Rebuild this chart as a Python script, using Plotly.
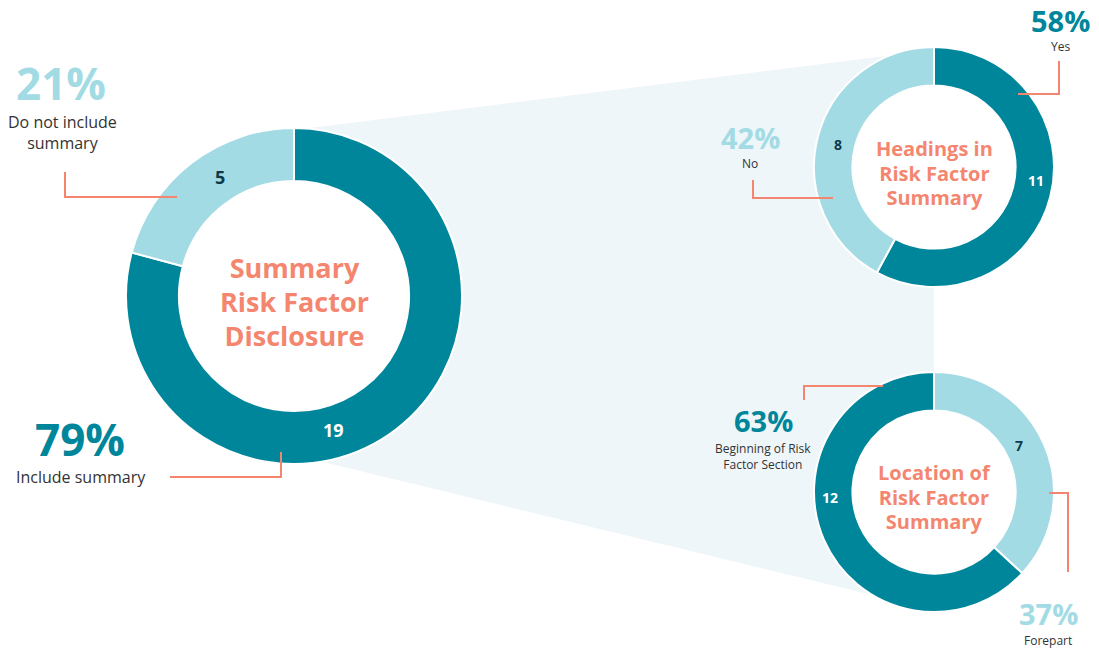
import plotly.graph_objects as go

W, H = 1099, 648

# Survey counts for each donut
summary_labels = ["Include summary", "Do not include summary"]
summary_counts = [19, 5]

headings_labels = ["Yes", "No"]
headings_counts = [11, 8]

location_labels = ["Forepart", "Beginning of Risk Factor Section"]
location_counts = [7, 12]

DARK = "#00869b"
LIGHT = "#a3dbe5"
SALMON = "#f4866f"
NAVY = "#0e3a48"
FUNNEL = "#eef6f9"
INK = "#333333"
FONT = "Open Sans"
ASCENT = 1.069  # Open Sans ascender, in em


def px(x):
    return x / W


def py(y):
    return 1 - y / H


def pct(counts, i):
    return f"{round(100 * counts[i] / sum(counts))}%"


def domain(cx, cy, r):
    return dict(x=[px(cx - r), px(cx + r)], y=[py(cy + r), py(cy - r)])


fig = go.Figure()

donuts = [
    (summary_labels, summary_counts, [DARK, LIGHT], (294, 296, 168), 0.685),
    (headings_labels, headings_counts, [DARK, LIGHT], (934, 167, 120), 0.68),
    (location_labels, location_counts, [LIGHT, DARK], (934, 492, 120), 0.68),
]

for labels, counts, colors, (cx, cy, r), hole in donuts:
    fig.add_trace(go.Pie(
        labels=labels, values=counts, hole=hole, sort=False,
        direction="clockwise", rotation=0, textinfo="none",
        marker=dict(colors=colors, line=dict(color="white", width=2)),
        domain=domain(cx, cy, r), showlegend=False,
        hoverinfo="label+value",
    ))

shapes = []
# light connector band from the main donut to the two detail donuts
band = [(294, 130), (934, 50), (934, 610), (294, 455)]
path = "M " + " L ".join(f"{px(x)},{py(y)}" for x, y in band) + " Z"
shapes.append(dict(type="path", xref="paper", yref="paper", path=path,
                   fillcolor=FUNNEL, line=dict(width=0), layer="below"))
# white centres inside the donut holes
for _, _, _, (cx, cy, r), hole in donuts:
    ri = r * hole + 1
    shapes.append(dict(type="circle", xref="paper", yref="paper",
                       x0=px(cx - ri), x1=px(cx + ri), y0=py(cy + ri), y1=py(cy - ri),
                       fillcolor="white", line=dict(width=0), layer="below"))

# elbow leader lines
leaders = [
    [(65, 172), (65, 197), (177, 197)],
    [(170, 477), (281, 477), (281, 452)],
    [(1018, 94), (1059, 94), (1059, 61)],
    [(753, 180), (753, 198), (833, 198)],
    [(804, 400), (804, 386), (883, 386)],
    [(1049, 493), (1068, 493), (1068, 572)],
]
for pts in leaders:
    p = "M " + " L ".join(f"{px(x)},{py(y)}" for x, y in pts)
    shapes.append(dict(type="path", xref="paper", yref="paper", path=p,
                       line=dict(color=SALMON, width=2), layer="above"))

annotations = []


def stack(x, baseline, lines, size, color, bold=False, step=None):
    """Centred block of lines; baseline is the first line's baseline."""
    step = step or size * 1.3
    parts = []
    for s in lines:
        s = f"<b>{s}</b>" if bold else str(s)
        parts.append(f"<span style='font-size:{size}px'>{s}</span>")
    top = baseline - ASCENT * size - 1
    annotations.append(dict(
        x=px(x), y=py(top), xref="paper", yref="paper", text="<br>".join(parts),
        showarrow=False, xanchor="center", yanchor="top", borderpad=1,
        font=dict(family=FONT, size=step / 1.3, color=color),
    ))


def value(x, y, v, size, color):
    annotations.append(dict(
        x=px(x), y=py(y), xref="paper", yref="paper", text=f"<b>{v}</b>",
        showarrow=False, xanchor="center", yanchor="middle",
        font=dict(family=FONT, size=size, color=color),
    ))


# centre titles
stack(294, 277, ["Summary", "Risk Factor", "Disclosure"], 27, SALMON, True, 34)
stack(934, 155, ["Headings in", "Risk Factor", "Summary"], 20, SALMON, True, 24.5)
stack(934, 479, ["Location of", "Risk Factor", "Summary"], 20, SALMON, True, 24.5)

# slice counts
value(220, 177, summary_counts[1], 18, NAVY)
value(333, 430, summary_counts[0], 18, "white")
value(838, 144, headings_counts[1], 14, NAVY)
value(1036, 180, headings_counts[0], 14, "white")
value(1019, 445, location_counts[0], 14, NAVY)
value(830, 497, location_counts[1], 14, "white")

# percentages and category names
stack(61, 99, [pct(summary_counts, 1)], 44, LIGHT, True)
stack(62, 127, ["Do not include", "summary"], 16, INK, step=21)
stack(80, 455, [pct(summary_counts, 0)], 44, DARK, True)
stack(81, 482, [summary_labels[0]], 16, INK)

stack(1060, 31, [pct(headings_counts, 0)], 29, DARK, True)
stack(1060, 50, [headings_labels[0]], 12, INK)
stack(750, 148, [pct(headings_counts, 1)], 29, LIGHT, True)
stack(750, 167, [headings_labels[1]], 12, INK)

stack(763, 431, [pct(location_counts, 1)], 29, DARK, True)
stack(763, 452, ["Beginning of Risk", "Factor Section"], 12, INK, step=15.5)
stack(1048, 624, [pct(location_counts, 0)], 29, LIGHT, True)
stack(1048, 644, [location_labels[0]], 12, INK)

fig.update_layout(
    width=W, height=H, margin=dict(l=0, r=0, t=0, b=0),
    paper_bgcolor="white", plot_bgcolor="white",
    shapes=shapes, annotations=annotations,
)

fig.write_html("out.html")
